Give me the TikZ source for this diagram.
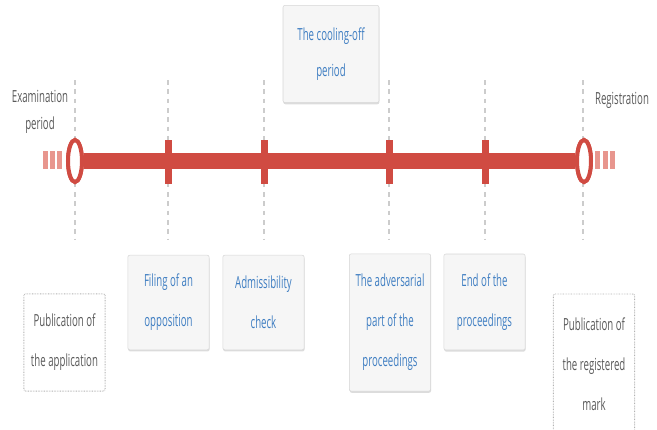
\documentclass[tikz,border=0pt]{standalone}
\usepackage{fontspec}
\newfontfamily\stepfont{Open Sans}[FakeStretch=0.58]
\usetikzlibrary{shapes.geometric,shadows}

\definecolor{barred}{HTML}{D04B42}
\definecolor{stubred}{HTML}{E8968E}
\definecolor{guidegrey}{HTML}{CCCCCC}
\definecolor{boxline}{HTML}{D6D6D6}
\definecolor{boxfill}{HTML}{F6F6F6}
\definecolor{stepblue}{HTML}{3F7EC2}
\definecolor{notegrey}{HTML}{5A5A5A}

\begin{document}
\begin{tikzpicture}[x=0.75pt,y=0.75pt,yscale=-1,xscale=1,
  guide/.style={draw=guidegrey, line width=0.8pt, dash pattern=on 3.5pt off 3.5pt},
  bar/.style={draw=barred, line width=12pt},
  ring/.style={ellipse, draw=barred, line width=3pt, fill=white, minimum width=10.5pt, minimum height=31.5pt, inner sep=0pt},
  tick/.style={rectangle, fill=barred, minimum width=5.25pt, minimum height=33pt, inner sep=0pt},
  stub/.style={fill=stubred},
  stepbox/.style={draw=boxline, fill=boxfill, rounded corners=1.5pt, text=stepblue, align=center, inner sep=0pt, minimum width=61pt,
    drop shadow={shadow xshift=0.3pt, shadow yshift=-1.2pt, opacity=0.3, fill=black!45},
    font=\stepfont\fontsize{12.5}{30}\selectfont},
  notebox/.style={draw=black!30, line width=0.7pt, dash pattern=on 0.5pt off 0.7pt, fill=white, rounded corners=1.5pt, text=notegrey, align=center, inner sep=0pt, minimum width=61pt,
    font=\stepfont\fontsize{12.5}{30}\selectfont},
  note/.style={text=notegrey, align=center, inner sep=0pt, font=\stepfont\fontsize{12.5}{20}\selectfont}
]
\useasboundingbox (0,0) rectangle (657,429);

%Dashed guides
\foreach \gx in {75,168,264,389,485,583}
  \draw [guide] (\gx,80) -- (\gx,240) ;

%Stubs left and right
\foreach \sx in {43,50,57,595,602.5,610}
  \fill [stub] (\sx,151) rectangle ++(5,18) ;

%Timeline
\node [ring] (start) at (75,161) {};
\node [ring] (stop) at (584,161) {};
\draw [bar] (start.east) -- (stop.west) ;
\node [ring] at (start) {};
\node [ring] at (stop) {};

%Ticks
\node [tick] (filing) at (168,162) {};
\node [tick] (check) at (264,162) {};
\node [tick] (adversarial) at (389,162) {};
\node [tick] (end) at (485,162) {};

% Text Node
\node [note] (exam) at (40,112) {Examination\\period};
% Text Node
\node [note] (reg) at (622,100) {Registration};

%Boxes above
\node [stepbox, minimum width=72pt, minimum height=73pt, font=\stepfont\fontsize{12.5}{27}\selectfont] (cooling) at (331,54) {The cooling-off\\period};

%Boxes below
\node [notebox, minimum height=73pt] (pubapp) at (64.5,342.5) {Publication of\\the application};
\node [stepbox, minimum height=71pt] (filingbox) at (168.5,302.5) {Filing of an\\opposition};
\node [stepbox, minimum height=71pt] (checkbox) at (263.5,302.5) {Admissibility\\check};
\node [stepbox, minimum height=103pt] (adversarialbox) at (390,322.5) {The adversarial\\part of the\\proceedings};
\node [stepbox, minimum height=72pt] (endbox) at (484.5,302) {End of the\\proceedings};
\node [notebox, minimum height=105pt] (pubmark) at (594,364) {Publication of\\the registered\\mark};

\end{tikzpicture}
\end{document}
